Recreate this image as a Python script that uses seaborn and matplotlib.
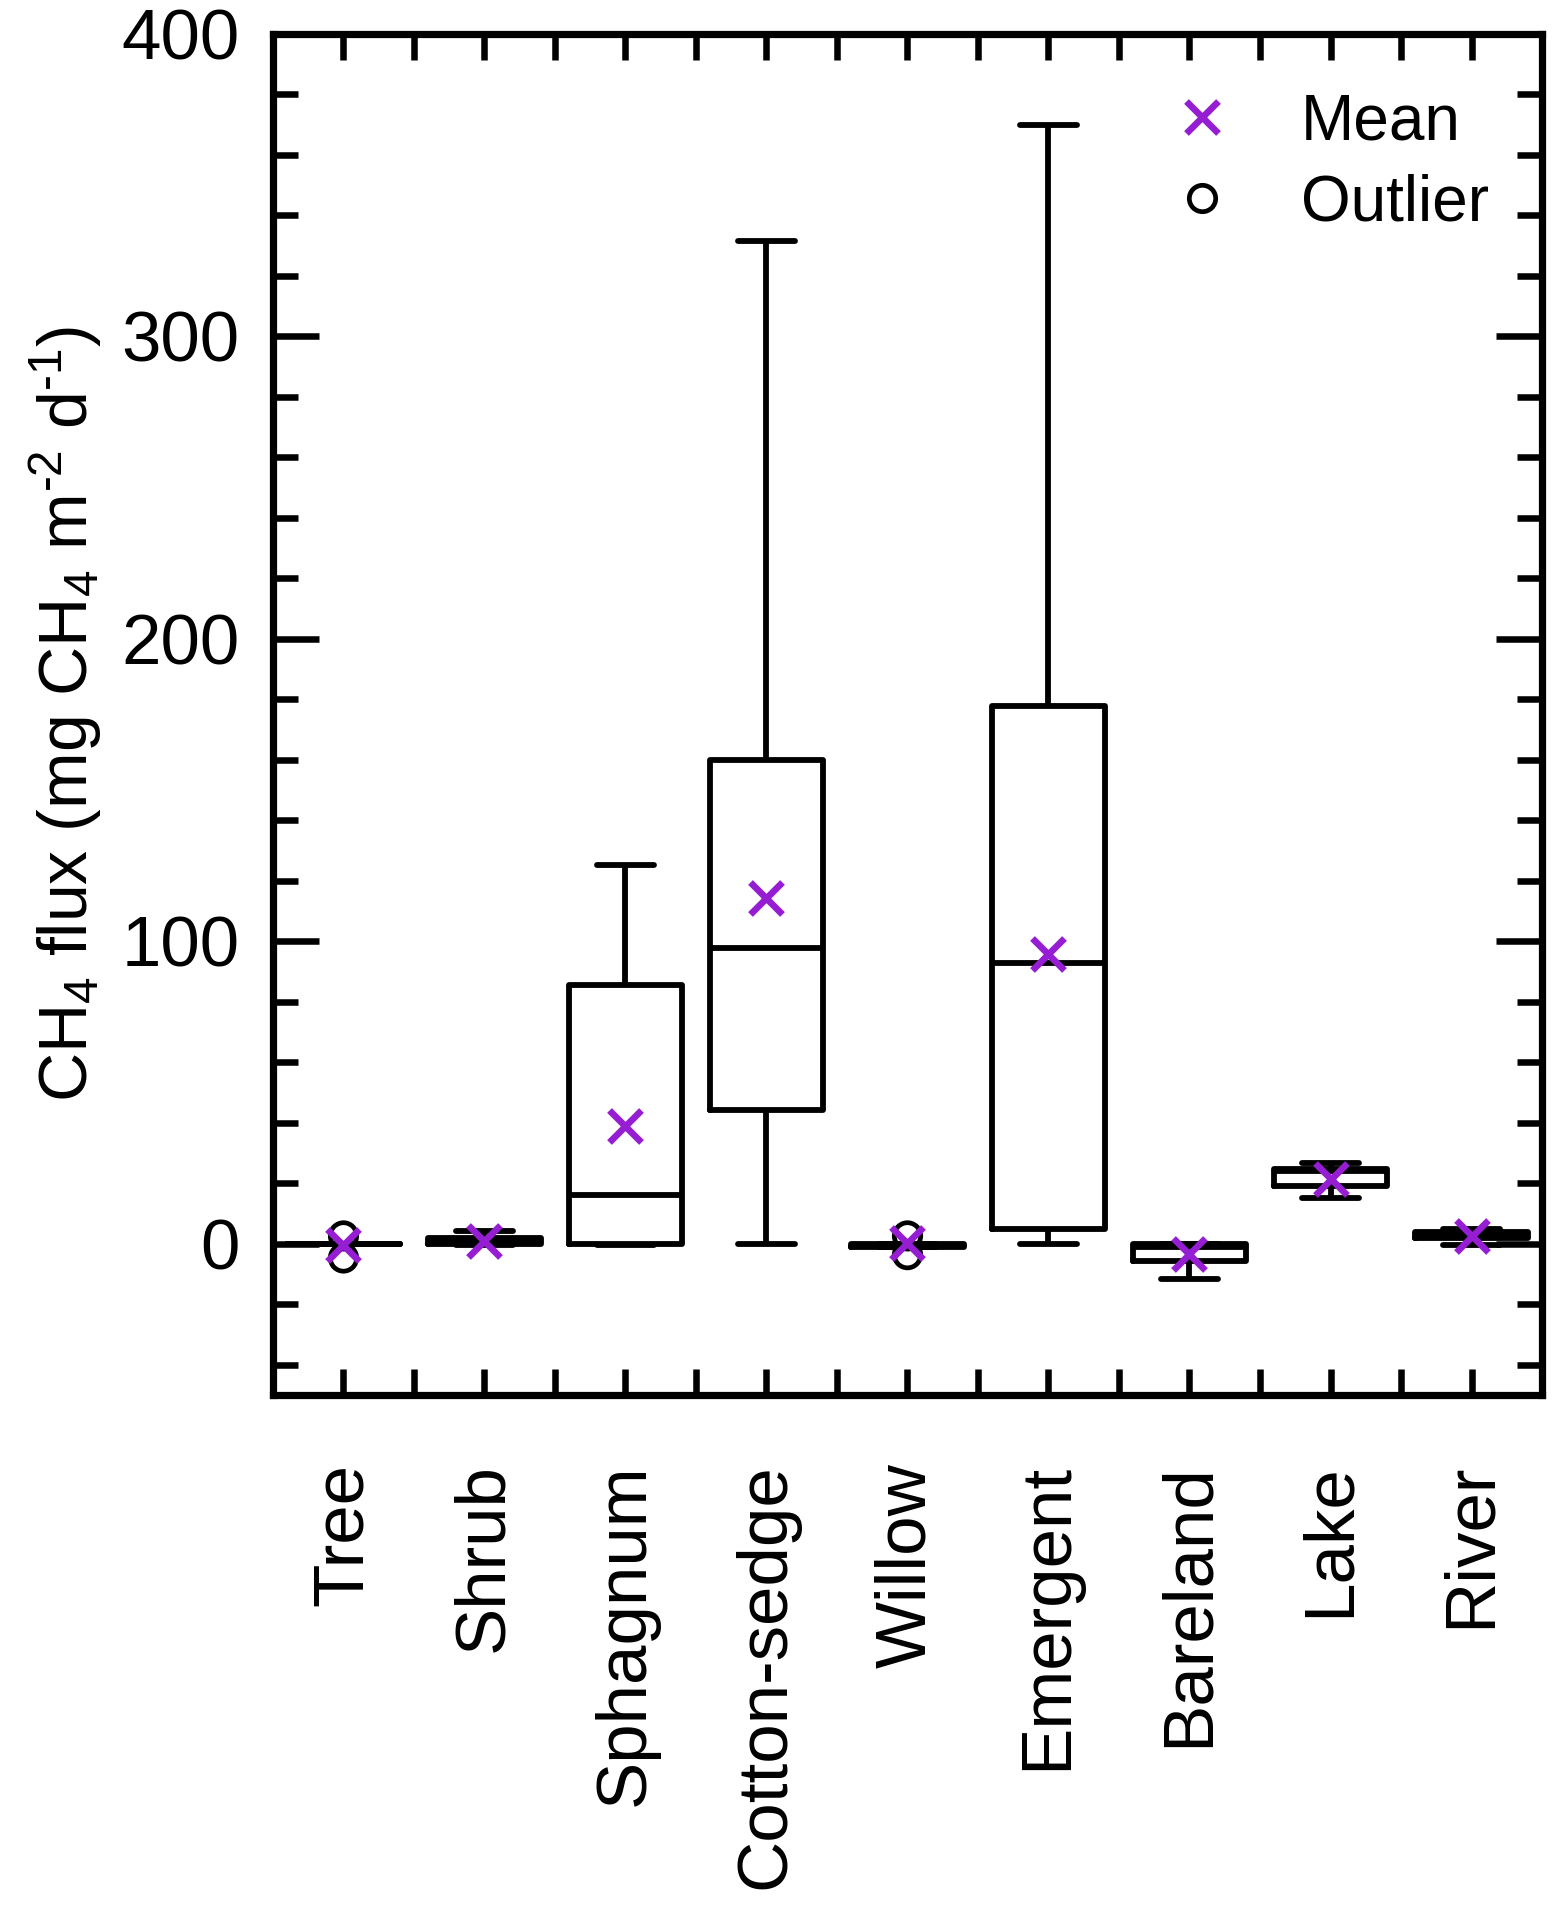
import numpy as np
import pandas as pd
import matplotlib
matplotlib.use("Agg")
import matplotlib.pyplot as plt
from matplotlib.lines import Line2D
from matplotlib.ticker import MultipleLocator
import seaborn as sns

# categories and box statistics (mg CH4 m-2 d-1)
categories = ["Tree", "Shrub", "Sphagnum", "Cotton-sedge", "Willow",
              "Emergent", "Bareland", "Lake", "River"]
whisker_low = [0, -0.3, -0.3, 0, -1, 0, -11.6, 15.2, -0.3]
q1 = [0, 0, 0, 44.3, -1, 4.9, -5.6, 19.2, 2]
median = [0, 1, 16, 97.9, -0.5, 92.7, -1, 24, 3]
q3 = [0, 2, 85.6, 159.8, 0, 177.7, 0, 24.8, 4]
whisker_high = [0, 4.3, 125.1, 331.6, 0, 370, 0, 26.6, 5]
means = [-0.3, 0.8, 38.8, 114.3, 0.3, 95.8, -3.3, 21.5, 2.6]

outlier_cat = ["Tree", "Tree", "Willow", "Willow"]
outlier_val = [2.6, -4.7, 2.6, -3.6]

PURPLE = "#961ED2"

sns.set_theme(style="ticks")
plt.rcParams["font.family"] = ["Liberation Sans", "DejaVu Sans"]
plt.rcParams["mathtext.fontset"] = "custom"
plt.rcParams["mathtext.rm"] = "Liberation Sans"
plt.rcParams["mathtext.it"] = "Liberation Sans:italic"
plt.rcParams["mathtext.bf"] = "Liberation Sans:bold"
for key in ["text.color", "axes.labelcolor", "xtick.color", "ytick.color",
            "axes.edgecolor"]:
    plt.rcParams[key] = "black"

# five-number summaries per category; percentiles of these give the box back
box_df = pd.DataFrame({
    "cat": np.repeat(categories, 5),
    "val": np.column_stack([whisker_low, q1, median, q3, whisker_high]).ravel(),
})

fig = plt.figure(figsize=(15.59, 19.17), dpi=100)
ax = fig.add_axes([0.1751, 0.2723, 0.8140, 0.7100])

sns.boxplot(data=box_df, x="cat", y="val", order=categories, whis=(0, 100),
            width=0.8, fill=False, color="black", linewidth=4.2,
            showfliers=False, ax=ax)

sns.stripplot(x=outlier_cat, y=outlier_val, order=categories, jitter=False,
              marker="o", size=19, color="white", edgecolor="black",
              linewidth=3.4, ax=ax, zorder=4)
for coll in ax.collections:
    coll.set_facecolor("none")

sns.pointplot(x=categories, y=means, order=categories, linestyle="none",
              marker="x", markersize=23, markeredgewidth=4.8, color=PURPLE,
              errorbar=None, ax=ax)
for ln in ax.lines[-1:]:
    ln.set_zorder(5)

ax.set_xlim(-0.5, 8.5)
ax.set_ylim(-50, 400)

ax.set_xticks(range(len(categories)))
ax.set_xticklabels(categories, rotation=90, fontsize=51)
ax.xaxis.set_minor_locator(MultipleLocator(0.5))
ax.yaxis.set_minor_locator(MultipleLocator(20))
ax.set_yticks([0, 100, 200, 300, 400])
ax.tick_params(axis="y", labelsize=51)

ax.tick_params(axis="x", which="both", direction="in", top=True, bottom=True,
               length=18.5, width=4.7, pad=49, color="black")
ax.tick_params(axis="y", which="major", direction="in", left=True, right=True,
               length=33, width=4.7, pad=24, color="black")
ax.tick_params(axis="y", which="minor", direction="in", left=True, right=True,
               length=18, width=4.7, color="black")

for sp in ax.spines.values():
    sp.set_visible(True)
    sp.set_linewidth(5.2)
    sp.set_color("black")

ax.set_xlabel("")
ax.set_ylabel("CH$_\\mathregular{4}$ flux (mg CH$_\\mathregular{4}$ "
              "m$^\\mathregular{\u20102}$ d$^\\mathregular{\u20101}$)",
              fontsize=49)
ax.yaxis.set_label_coords(-0.133, 0.5)

handles = [
    Line2D([], [], ls="none", marker="x", color=PURPLE, markersize=23,
           markeredgewidth=4.8),
    Line2D([], [], ls="none", marker="o", markerfacecolor="none",
           markeredgecolor="black", markersize=19, markeredgewidth=3.4),
]
ax.legend(handles, ["Mean", "Outlier"], loc="upper left",
          bbox_to_anchor=(0.707, 0.957), frameon=False, fontsize=46,
          handlelength=1.0, handletextpad=1.05, labelspacing=0.33,
          borderpad=0, borderaxespad=0)

fig.savefig("out.png", dpi=100)
plt.close(fig)
